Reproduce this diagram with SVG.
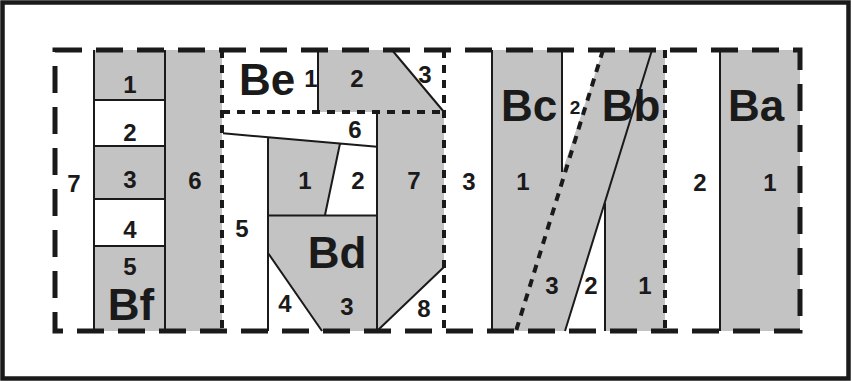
<svg xmlns="http://www.w3.org/2000/svg" width="852" height="381" viewBox="0 0 852 381">
<style>
.g{fill:#c3c3c3;stroke:none}
.s{stroke:#1a1a1a;stroke-width:2;fill:none}
.d{stroke:#1a1a1a;stroke-width:5;fill:none;stroke-dasharray:27 14}
.o{stroke:#1a1a1a;stroke-width:4;fill:none;stroke-dasharray:8 7}
.n{font-family:"Liberation Sans",Arial,sans-serif;font-weight:bold;font-size:24px;fill:#1a1a1a;text-anchor:middle}
.b{font-family:"Liberation Sans",Arial,sans-serif;font-weight:bold;font-size:44px;fill:#1a1a1a;text-anchor:middle}
.sm{font-size:19px}
</style>
<rect x="0" y="0" width="852" height="381" fill="#fff"/>
<rect x="2.5" y="2.5" width="846" height="376" fill="none" stroke="#1a1a1a" stroke-width="4.5"/>

<g id="Bf">
<rect class="g" x="94" y="50" width="71" height="50"/>
<rect class="g" x="94" y="146" width="71" height="53"/>
<rect class="g" x="94" y="246" width="71" height="85"/>
<rect class="g" x="165" y="50" width="57" height="281"/>
<path class="s" d="M94 50V331M165 50V331M94 100H165M94 146H165M94 199H165M94 246H165"/>
<text class="n" x="130" y="93">1</text>
<text class="n" x="130" y="141">2</text>
<text class="n" x="130" y="188">3</text>
<text class="n" x="130" y="238">4</text>
<text class="n" x="130" y="275">5</text>
<text class="b" x="131" y="320">Bf</text>
<text class="n" x="195" y="189">6</text>
<text class="n" x="74" y="192">7</text>
</g>

<g id="Be">
<polygon class="g" points="318,50 392,50 444,112 318,112"/>
<path class="s" d="M318 50V112M392 50L444 112"/>
<text class="b" x="267" y="95">Be</text>
<text class="n" x="311" y="87">1</text>
<text class="n" x="357" y="87">2</text>
<text class="n" x="425" y="83">3</text>
</g>

<g id="Bd">
<polygon class="g" points="268,137.2 340,143.5 325,215 268,215"/>
<polygon class="g" points="377,112 444,112 444,267 377,331"/>
<polygon class="g" points="268,215 377,215 377,331 322,331 268,253"/>
<path class="s" d="M223 133.3L377 146.7M377 112V331M268 137V331M340 143.5L325 215M268 215.5H377M268 253L322 331M444 267L377 331"/>
<text class="n" x="355" y="138">6</text>
<text class="n" x="305" y="189">1</text>
<text class="n" x="358" y="189">2</text>
<text class="n" x="414" y="189">7</text>
<text class="n" x="242" y="237">5</text>
<text class="b" x="337" y="268">Bd</text>
<text class="n" x="285" y="312">4</text>
<text class="n" x="347" y="315">3</text>
<text class="n" x="424" y="317">8</text>
</g>

<g id="Bc-Bb">
<polygon class="g" points="492,50 562,50 562,172 603,50 665,50 665,331 605,331 605,203 565,331 492,331"/>
<text class="b" x="529" y="121">Bc</text>
<text class="b" x="631" y="121">Bb</text>
<text class="n sm" x="575" y="114">2</text>
<text class="n" x="469" y="190">3</text>
<text class="n" x="523" y="190">1</text>
<text class="n" x="552" y="294">3</text>
<text class="n" x="591" y="294">2</text>
<text class="n" x="645" y="294">1</text>
<path class="s" d="M492 50V331M562 50V172M652 50L565 331M605 203V331"/>
</g>

<g id="Ba">
<rect class="g" x="720" y="50" width="80" height="281"/>
<path class="s" d="M720 50V331"/>
<text class="b" x="756" y="121">Ba</text>
<text class="n" x="700" y="191">2</text>
<text class="n" x="770" y="191">1</text>
</g>

<g id="boundaries">
<path class="o" d="M222 50V331M222 112H444M444 50V331M665 50V331M603 50L516 331"/>
<path class="d" d="M55 50H800V331H55Z"/>
</g>
</svg>
